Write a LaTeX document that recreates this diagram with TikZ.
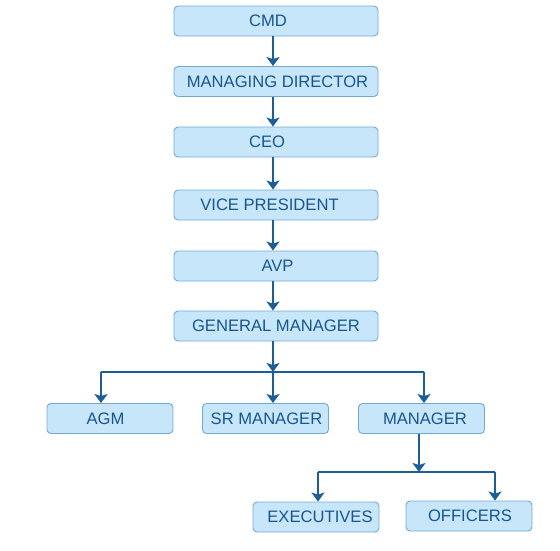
\documentclass[tikz,border=0pt]{standalone}
\usepackage{fontspec}
\setmainfont{Liberation Sans}
\usetikzlibrary{arrows.meta}
\definecolor{boxfill}{HTML}{C8E6FA}
\definecolor{boxline}{HTML}{72AAD6}
\definecolor{txt}{HTML}{17568F}
\definecolor{arr}{HTML}{1B5E9A}
\newcommand{\shl}[2]{#2\hspace*{#1}}
\newcommand{\shr}[2]{\hspace*{#1}#2}
\begin{document}
\begin{tikzpicture}[x=1pt,y=-1pt,
  box/.style={draw=boxline,fill=boxfill,rounded corners=4pt,line width=0.9pt,
    minimum height=30pt,inner sep=0pt,text=txt,font=\fontsize{16.6}{19}\selectfont},
  wide/.style={box,minimum width=204pt},
  small/.style={box,minimum width=126pt},
  con/.style={draw=arr,line width=2.3pt,-{Stealth[length=9pt,width=13pt,inset=2pt]}},
  lin/.style={draw=arr,line width=2pt}]
\useasboundingbox (0,0) rectangle (560,550);
\node[wide] (cmd) at (276,21) {\shl{16pt}{CMD}};
\node[wide] (md) at (276,81.5) {\shr{3pt}{MANAGING DIRECTOR}};
\node[wide] (ceo) at (276,142) {\shl{18pt}{CEO}};
\node[wide] (vp) at (276,205) {\shl{13pt}{VICE PRESIDENT}};
\node[wide] (avp) at (276,266) {\shr{3pt}{AVP}};
\node[wide] (gm) at (276,326) {GENERAL MANAGER};
\node[small] (agm) at (110,418.5) {\shl{9pt}{AGM}};
\node[small] (srm) at (265.5,418.5) {\shr{2pt}{SR MANAGER}};
\node[small] (mgr) at (421.5,418.5) {\shr{7pt}{MANAGER}};
\node[small] (exe) at (316,517) {\shr{8pt}{EXECUTIVES}};
\node[small] (off) at (469,516) {\shr{2pt}{OFFICERS}};
\coordinate (b1) at (273,372);
\coordinate (b1l) at (101,372);
\coordinate (b1r) at (424,372);
\coordinate (b2) at (419,472);
\coordinate (b2l) at (318,472);
\coordinate (b2r) at (495,472);
\draw[con] (cmd.south -| 273,0) -- (md.north -| 273,0);
\draw[con] (md.south -| 273,0) -- (ceo.north -| 273,0);
\draw[con] (ceo.south -| 273,0) -- (vp.north -| 273,0);
\draw[con] (vp.south -| 273,0) -- (avp.north -| 273,0);
\draw[con] (avp.south -| 273,0) -- (gm.north -| 273,0);
\draw[con] (gm.south -| b1) -- (b1);
\draw[lin] (b1l) -- (b1r);
\draw[con] (b1l) -- (b1l |- agm.north);
\draw[con] (b1) -- (b1 |- srm.north);
\draw[con] (b1r) -- (b1r |- mgr.north);
\draw[con] (mgr.south -| b2) -- (b2);
\draw[lin] (b2l) -- (b2r);
\draw[con] (b2l) -- (b2l |- exe.north);
\draw[con] (b2r) -- (b2r |- off.north);
\end{tikzpicture}
\end{document}
